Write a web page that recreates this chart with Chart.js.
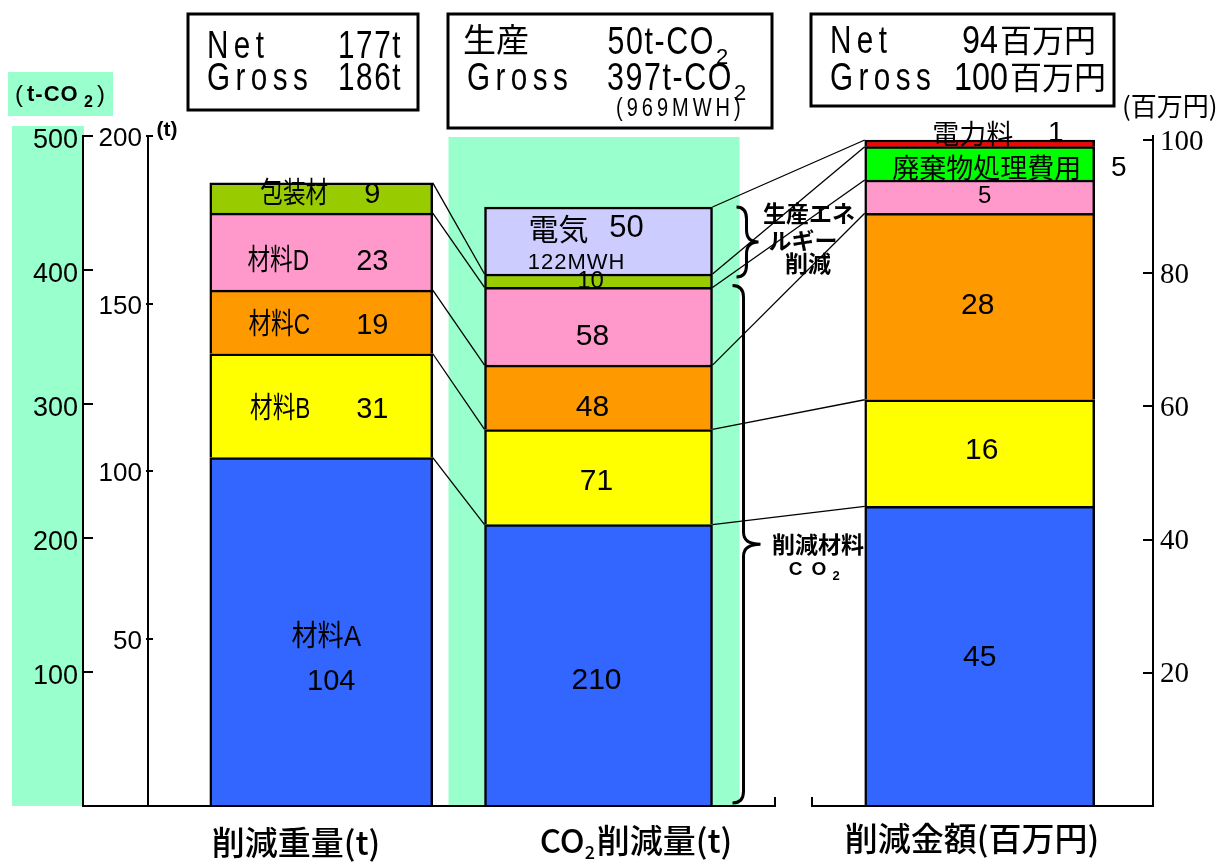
<!DOCTYPE html>
<html>
<head>
<meta charset="utf-8">
<script src="https://cdn.jsdelivr.net/npm/chart.js@4.4.0/dist/chart.umd.min.js"></script>
<style>
  html, body { margin: 0; padding: 0; background: #fff; }
  canvas { display: block; }
</style>
</head>
<body>
<canvas id="chart" width="1228" height="863"></canvas>
<script>
// the three bars
const categories = ['削減重量(t)', 'CO2削減量(t)', '削減金額(百万円)'];

// 削減重量 (t)
const weightNames = ['材料A', '材料B', '材料C', '材料D', '包装材'];
const weightValues = [104, 31, 19, 23, 9];

// CO2削減量 (t-CO2)
const co2Names = ['材料A', '材料B', '材料C', '材料D', '包装材', '電気'];
const co2Values = [210, 71, 48, 58, 10, 50];

// 削減金額 (百万円)
const costNames = ['材料A', '材料B', '材料C', '材料D', '廃棄物処理費用', '電力料'];
const costValues = [45, 16, 28, 5, 5, 1];

// axis ticks
const co2Ticks = [100, 200, 300, 400, 500];
const weightTicks = [50, 100, 150, 200];
const costTicks = [20, 40, 60, 80, 100];

const colors = ['#3366ff', '#ffff00', '#ff9900', '#ff99cc', '#99cc00', '#ccccff'];
const costColors = ['#3366ff', '#ffff00', '#ff9900', '#ff99cc', '#00ff00', '#ff0000'];

const SANS = '"Liberation Sans", "Noto Sans CJK JP", sans-serif';
const JP = '"Noto Sans CJK JP", sans-serif';
const SERIF = '"Liberation Serif", serif';
const MINT = '#99ffcc';

// bars are not evenly spaced: put them on slots of a wider category axis
const slots = new Array(30).fill('');
slots[5] = categories[0];
slots[13] = categories[1];
slots[24] = categories[2];

function barSets(names, values, cols, cat, axis, thick) {
  return names.map((n, i) => ({
    label: n,
    data: [{ x: cat, y: values[i] }],
    yAxisID: axis,
    backgroundColor: cols[i],
    borderColor: '#000',
    borderWidth: { top: 2.5, left: 2.5, right: 2.5, bottom: 0 },
    borderSkipped: false,
    barThickness: thick,
    clip: false
  }));
}

const W = 0, C = 5, M = 11; // first dataset index of each bar

function seg(chart, ds) {
  const p = chart.getDatasetMeta(ds).data[0].getProps(['x', 'y', 'base', 'width'], true);
  return { x: p.x, top: p.y, bottom: p.base, left: p.x - p.width / 2, right: p.x + p.width / 2, mid: (p.y + p.base) / 2 };
}

function txt(ctx, s, x, y, font, o) {
  o = o || {};
  ctx.save();
  ctx.font = font;
  ctx.fillStyle = '#000';
  ctx.textAlign = o.align || 'center';
  ctx.textBaseline = o.base || 'middle';
  if (o.sp) ctx.letterSpacing = o.sp + 'px';
  ctx.translate(x, y);
  ctx.scale(o.sx || 1, 1);
  ctx.fillText(s, 0, 0);
  ctx.restore();
}

function brace(ctx, x, y1, y2, d, tip) {
  const ym = (y1 + y2) / 2, r = Math.min(12, (y2 - y1) / 4);
  ctx.beginPath();
  ctx.moveTo(x, y1);
  ctx.quadraticCurveTo(x + d, y1, x + d, y1 + r);
  ctx.lineTo(x + d, ym - r);
  ctx.quadraticCurveTo(x + d, ym, x + d + tip, ym);
  ctx.quadraticCurveTo(x + d, ym, x + d, ym + r);
  ctx.lineTo(x + d, y2 - r);
  ctx.quadraticCurveTo(x + d, y2, x, y2);
  ctx.stroke();
}

const decor = {
  id: 'decor',
  beforeDraw(chart) {
    const ctx = chart.ctx, a = chart.chartArea;
    ctx.save();
    ctx.fillStyle = '#fff';
    ctx.fillRect(0, 0, chart.width, chart.height);
    ctx.fillStyle = MINT;
    const yc = chart.scales.yC;
    ctx.fillRect(12, a.top - 10, yc.right + 1 - 12, a.bottom - a.top + 10);
    ctx.fillRect(8, 72, 105, 44);
    const m = seg(chart, C);
    ctx.fillRect(m.left - 36, a.top + 1, m.right - m.left + 63, a.bottom - a.top - 1);
    ctx.restore();
  },
  afterDatasetsDraw(chart) {
    const ctx = chart.ctx;
    // connecting lines between matching segments
    ctx.save();
    ctx.strokeStyle = '#000';
    ctx.lineWidth = 1.3;
    const links = [[0, 5], [1, 6], [2, 7], [3, 8], [4, 9], [5, 11], [6, 12], [7, 13], [8, 14], [9, 15], [10, 16]];
    links.forEach(([i, j]) => {
      const a = seg(chart, i), b = seg(chart, j);
      ctx.beginPath();
      ctx.moveTo(a.right, a.top);
      ctx.lineTo(b.left, b.top);
      ctx.stroke();
    });
    ctx.restore();

    const F = '29px ' + SANS, N = '30px ' + SANS;
    // 削減重量
    let s = seg(chart, W);
    txt(ctx, weightNames[0], s.x + 5, s.mid + 6, F, { sx: 0.9 });
    txt(ctx, String(weightValues[0]), s.x + 10, s.mid + 50, F);
    const wdy = [0, 4, 4, 10, -3];
    const wdx = [0, -41, -42, -43, -27];
    for (let i = 1; i < 5; i++) {
      s = seg(chart, W + i);
      txt(ctx, weightNames[i], s.x + wdx[i], s.mid + wdy[i], F, { sx: 0.78 });
      txt(ctx, String(weightValues[i]), s.x + 51, s.mid + wdy[i], F);
    }
    // CO2削減量
    const cdx = [-2, -2, -6, -6], cdy = [15, 5, 10, 10];
    for (let i = 0; i < 4; i++) {
      s = seg(chart, C + i);
      txt(ctx, String(co2Values[i]), s.x + cdx[i], s.mid + cdy[i], N);
    }
    s = seg(chart, C + 4);
    txt(ctx, String(co2Values[4]), s.x - 8, s.mid + 1, '24px ' + SANS);
    s = seg(chart, C + 5);
    txt(ctx, co2Names[5], s.x - 40, s.mid - 12, '30px ' + JP);
    txt(ctx, String(co2Values[5]), s.x + 28, s.mid - 12, '31px ' + SANS);
    txt(ctx, '122MWH', s.x - 22, s.mid + 22, '22px ' + SANS, { sp: 1 });
    // 削減金額
    const mdx = [0, 2, -2, 5], mdy = [2, -2, -1, 0];
    for (let i = 0; i < 4; i++) {
      s = seg(chart, M + i);
      txt(ctx, String(costValues[i]), s.x + mdx[i], s.mid + mdy[i], i === 3 ? '24px ' + SANS : N);
    }
    s = seg(chart, M + 4);
    txt(ctx, costNames[4], s.x + 7, s.mid + 4, '27px ' + JP);
    txt(ctx, String(costValues[4]), s.x + 139, s.mid + 5, '28px ' + SANS);
    s = seg(chart, M + 5);
    txt(ctx, costNames[5], s.x - 7, s.top - 6, '27px ' + JP);
    txt(ctx, String(costValues[5]), s.x + 76, s.top - 7, '28px ' + SANS);

    // braces
    ctx.save();
    ctx.lineWidth = 3;
    ctx.strokeStyle = '#000';
    const e = seg(chart, C + 5), d = seg(chart, C + 3), base = seg(chart, C);
    brace(ctx, e.right + 24, e.top, e.bottom + 3, 10, 12);
    brace(ctx, e.right + 20, d.top - 2, base.bottom - 3, 11, 17);
    ctx.restore();
  },
  afterDraw(chart) {
    const ctx = chart.ctx, a = chart.chartArea;
    const yc = chart.scales.yC, yw = chart.scales.yW, ym = chart.scales.yM;
    ctx.save();
    ctx.strokeStyle = '#000';
    ctx.lineWidth = 2;
    // inward tick marks
    yc.ticks.forEach(t => { const y = Math.round(yc.getPixelForValue(t.value)); ctx.beginPath(); ctx.moveTo(yc.right, y); ctx.lineTo(yc.right + 10, y); ctx.stroke(); });
    yw.ticks.forEach(t => { const y = Math.round(yw.getPixelForValue(t.value)); ctx.beginPath(); ctx.moveTo(a.left - 2, y); ctx.lineTo(a.left + 5, y); ctx.stroke(); });
    ym.ticks.forEach(t => { const y = Math.round(ym.getPixelForValue(t.value)); ctx.beginPath(); ctx.moveTo(ym.left - 10, y); ctx.lineTo(ym.left, y); ctx.stroke(); });
    // base lines
    const b = a.bottom;
    ctx.beginPath();
    ctx.moveTo(yc.right, b); ctx.lineTo(775, b); ctx.lineTo(775, b - 9);
    ctx.moveTo(812, b - 9); ctx.lineTo(812, b); ctx.lineTo(ym.left, b);
    ctx.stroke();
    // boxes
    ctx.lineWidth = 3;
    ctx.strokeRect(188, 14, 230, 96);
    ctx.strokeRect(448, 14, 324, 114);
    ctx.strokeRect(811, 14, 303, 92);
    ctx.restore();

    const BX = '38px ' + SANS;
    txt(ctx, 'Net', 207, 58, BX, { align: 'left', base: 'alphabetic', sx: 0.78, sp: 7 });
    txt(ctx, '177t', 402, 58, BX, { align: 'right', base: 'alphabetic', sx: 0.78, sp: 2 });
    txt(ctx, 'Gross', 207, 90, BX, { align: 'left', base: 'alphabetic', sx: 0.78, sp: 7 });
    txt(ctx, '186t', 402, 90, BX, { align: 'right', base: 'alphabetic', sx: 0.78, sp: 2 });

    txt(ctx, '生産', 463, 52, '33px ' + JP, { align: 'left', base: 'alphabetic' });
    txt(ctx, '50t-CO', 715, 54, BX, { align: 'right', base: 'alphabetic', sx: 0.8, sp: 2 });
    txt(ctx, '2', 716, 64, '22px ' + SANS, { align: 'left', base: 'alphabetic' });
    txt(ctx, 'Gross', 467, 90, BX, { align: 'left', base: 'alphabetic', sx: 0.78, sp: 7 });
    txt(ctx, '397t-CO', 733, 90, BX, { align: 'right', base: 'alphabetic', sx: 0.8, sp: 2 });
    txt(ctx, '2', 734, 100, '22px ' + SANS, { align: 'left', base: 'alphabetic' });
    txt(ctx, '(969MWH)', 616, 116, '25px ' + SANS, { align: 'left', base: 'alphabetic', sx: 0.8, sp: 5 });

    txt(ctx, 'Net', 830, 53, BX, { align: 'left', base: 'alphabetic', sx: 0.78, sp: 7 });
    txt(ctx, '94', 998, 53, BX, { align: 'right', base: 'alphabetic', sx: 0.85 });
    txt(ctx, '百万円', 1000, 52, '32px ' + JP, { align: 'left', base: 'alphabetic' });
    txt(ctx, 'Gross', 830, 90, BX, { align: 'left', base: 'alphabetic', sx: 0.78, sp: 7 });
    txt(ctx, '100', 1008, 90, BX, { align: 'right', base: 'alphabetic', sx: 0.85 });
    txt(ctx, '百万円', 1010, 89, '32px ' + JP, { align: 'left', base: 'alphabetic' });

    // unit labels
    txt(ctx, '(', 19, 95, '24px ' + SANS);
    txt(ctx, 't-CO', 27, 95, 'bold 22px ' + SANS, { align: 'left', sp: 1 });
    txt(ctx, '2', 84, 103, 'bold 16px ' + SANS, { align: 'left' });
    txt(ctx, ')', 101, 95, '24px ' + SANS);
    txt(ctx, '(t)', 167, 130, 'bold 21px ' + SANS);
    txt(ctx, '(百万円)', 1122, 106, '26px ' + JP, { align: 'left' });

    // brace notes
    const BJ = 'bold 23px ' + JP;
    txt(ctx, '生産エネ', 809, 213, BJ);
    txt(ctx, 'ルギー', 803, 240, BJ);
    txt(ctx, '削減', 808, 263, BJ);
    txt(ctx, '削減材料', 818, 544, BJ);
    txt(ctx, 'CO', 812, 570, 'bold 19px ' + SANS, { sp: 9 });
    txt(ctx, '2', 836, 576, 'bold 13px ' + SANS);

    // bar titles
    const TF = '500 33px ' + JP;
    txt(ctx, categories[0], 296, 842, TF);
    ctx.save();
    ctx.font = TF;
    const w1 = ctx.measureText('CO').width, w2 = ctx.measureText('削減量(t)').width;
    ctx.restore();
    const x0 = 636 - (w1 + 12 + w2) / 2;
    txt(ctx, 'CO', x0, 840, TF, { align: 'left' });
    txt(ctx, '2', x0 + w1, 852, '500 18px ' + JP, { align: 'left' });
    txt(ctx, '削減量(t)', x0 + w1 + 12, 840, TF, { align: 'left' });
    txt(ctx, categories[2], 972, 838, TF);
  }
};

new Chart(document.getElementById('chart'), {
  type: 'bar',
  data: {
    labels: slots,
    datasets: [
      ...barSets(weightNames, weightValues, colors, categories[0], 'yW', 223),
      ...barSets(co2Names, co2Values, colors, categories[1], 'yC', 228),
      ...barSets(costNames, costValues, costColors, categories[2], 'yM', 230)
    ]
  },
  options: {
    responsive: false,
    animation: false,
    layout: { padding: { top: 136, bottom: 57, left: 0, right: 0 } },
    plugins: { legend: { display: false }, tooltip: { enabled: false } },
    scales: {
      x: { type: 'category', display: false, stacked: true, offset: false },
      yC: {
        position: 'left', weight: 10, stacked: true, min: 0, max: 500,
        afterBuildTicks: s => { s.ticks = co2Ticks.map(v => ({ value: v })); },
        afterFit: s => { s.width = 83; },
        grid: { display: false, drawTicks: false },
        border: { display: true, color: '#000', width: 2 },
        ticks: { color: '#000', font: { family: SANS, size: 27 }, padding: 5, labelOffset: 5 }
      },
      yW: {
        position: 'left', weight: 0, stacked: true, min: 0, max: 200,
        afterBuildTicks: s => { s.ticks = weightTicks.map(v => ({ value: v })); },
        afterFit: s => { s.width = 65; },
        grid: { display: false, drawTicks: false },
        border: { display: true, color: '#000', width: 2 },
        ticks: { color: '#000', font: { family: SANS, size: 26 }, padding: 6, labelOffset: 3 }
      },
      yM: {
        position: 'right', stacked: true, min: 0, max: 100.6,
        afterBuildTicks: s => { s.ticks = costTicks.map(v => ({ value: v })); },
        afterFit: s => { s.width = 75; },
        grid: { display: false, drawTicks: false },
        border: { display: true, color: '#000', width: 2 },
        ticks: { color: '#000', font: { family: SERIF, size: 29 }, padding: 7, labelOffset: 2 }
      }
    }
  },
  plugins: [decor]
});
</script>
</body>
</html>
